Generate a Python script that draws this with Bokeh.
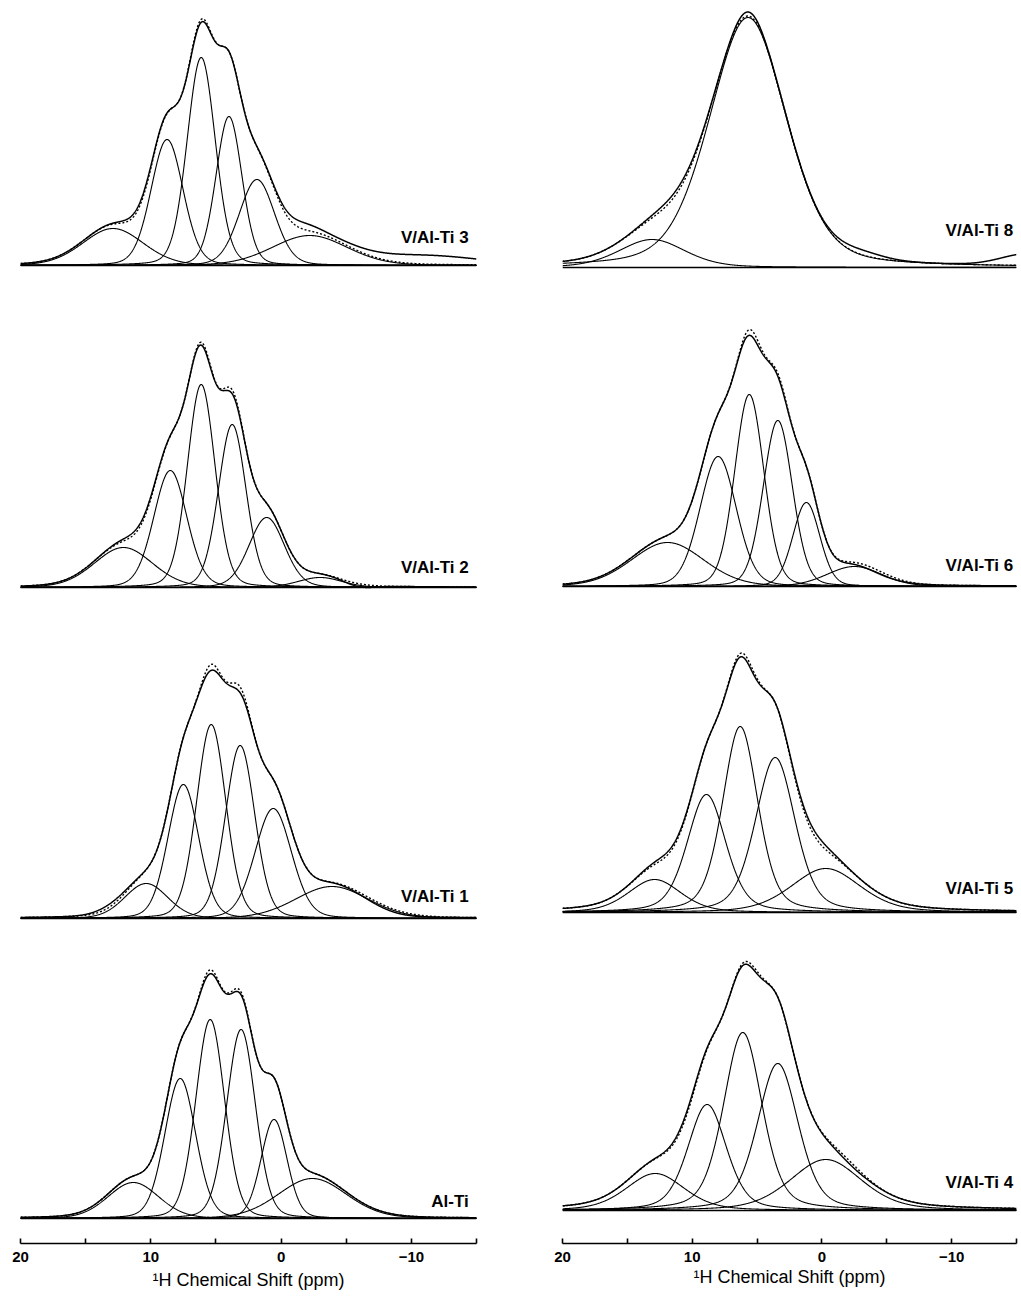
import numpy as np
from bokeh.plotting import figure
from bokeh.layouts import row
from bokeh.models import Range1d, FixedTicker
from bokeh.core.properties import value
from bokeh.embed import file_html
from bokeh.resources import INLINE

FONT = "Liberation Sans"

# ---------------- axis ----------------
major_ticks = [20, 10, 0, -10]
minor_ticks = [15, 5, -5, -15]
x_label = "\u00b9H Chemical Shift (ppm)"

# ---------------- samples ----------------
left_names = ["V/Al-Ti 3", "V/Al-Ti 2", "V/Al-Ti 1", "Al-Ti"]
right_names = ["V/Al-Ti 8", "V/Al-Ti 6", "V/Al-Ti 5", "V/Al-Ti 4"]

# fitted components: centre (ppm), height (a.u.), FWHM (ppm); Lorentzian fraction
vat3_centre = [12.9, 8.75, 6.13, 4.0, 1.85, -2.2]
vat3_height = [37, 126, 208, 149, 86, 30]
vat3_fwhm = [5.5, 2.9, 2.55, 2.35, 3.2, 6.8]
vat3_lorentz = 0.15
# experimental minus fit (deviation terms): centre, height, FWHM
vat3_dev_centre = [11.0, -1.5, -11.0, 6.2]
vat3_dev_height = [3, 6, 9, -3]
vat3_dev_fwhm = [3.0, 3.0, 10.0, 1.5]

vat2_centre = [12.1, 8.5, 6.13, 3.75, 1.1, -3.0]
vat2_height = [40, 117, 203, 163, 70, 10]
vat2_fwhm = [5.3, 3.0, 2.5, 2.5, 3.2, 4.0]
vat2_lorentz = 0.15
vat2_dev_centre = [6.0, 3.8, 11.0, -6.0]
vat2_dev_height = [-3, -4, 3, -3]
vat2_dev_fwhm = [1.2, 1.2, 3.0, 2.5]

vat1_centre = [10.35, 7.5, 5.36, 3.14, 0.6, -3.9]
vat1_height = [35, 134, 194, 173, 110, 32]
vat1_fwhm = [3.9, 2.8, 2.65, 2.65, 3.3, 6.6]
vat1_lorentz = 0.15
vat1_dev_centre = [5.4, 3.2, -8.0, 13.0]
vat1_dev_height = [-6, -6, -3, 3]
vat1_dev_fwhm = [1.3, 1.3, 5.0, 3.0]

alti_centre = [11.34, 7.74, 5.44, 3.07, 0.54, -2.4]
alti_height = [36, 140, 199, 189, 99, 40]
alti_fwhm = [4.6, 2.8, 2.6, 2.6, 2.35, 6.2]
alti_lorentz = 0.15
alti_dev_centre = [5.5, 3.3]
alti_dev_height = [-4, -3]
alti_dev_fwhm = [1.3, 1.3]

vat8_centre = [13.1, 5.7]
vat8_height = [28, 250]
vat8_fwhm = [6.0, 7.0]
vat8_lorentz = 0.3
vat8_dev_centre = [5.7, -3.0, 11.5, -16.0]
vat8_dev_height = [4, 5, 4, 12]
vat8_dev_fwhm = [2.0, 4.0, 4.0, 5.0]

vat6_centre = [11.9, 8.0, 5.6, 3.4, 1.2, -2.5]
vat6_height = [44, 130, 192, 166, 84, 20]
vat6_fwhm = [6.6, 3.3, 2.65, 2.65, 2.45, 5.0]
vat6_lorentz = 0.15
vat6_dev_centre = [5.4, 3.3, -4.0]
vat6_dev_height = [-6, -3, -3]
vat6_dev_fwhm = [1.5, 1.2, 4.0]

vat5_centre = [12.9, 8.9, 6.3, 3.6, -0.3]
vat5_height = [33, 118, 186, 155, 44]
vat5_fwhm = [4.8, 3.5, 3.2, 3.6, 6.3]
vat5_lorentz = 0.35
vat5_dev_centre = [5.9, 12.0, 0.5]
vat5_dev_height = [-4, 3, 5]
vat5_dev_fwhm = [2.0, 3.0, 3.0]

vat4_centre = [12.85, 8.85, 6.1, 3.4, -0.3]
vat4_height = [37, 106, 178, 147, 51]
vat4_fwhm = [5.3, 3.5, 3.5, 3.7, 6.5]
vat4_lorentz = 0.35
vat4_dev_centre = [5.5, 10.5, -2.0]
vat4_dev_height = [-3, 3, -3]
vat4_dev_fwhm = [2.0, 3.0, 3.0]

# ---------------- helpers ----------------
xs = np.linspace(20, -15, 1401)


def pseudo_voigt(x, c, h, w, f):
    u = 4.0 * ((x - c) / w) ** 2
    return h * ((1 - f) * np.exp(-np.log(2) * u) + f / (1 + u))


def gauss(x, c, h, w):
    return h * np.exp(-4 * np.log(2) * ((x - c) / w) ** 2)


def panel(centre, height, fwhm, lor, dcen, dh, dw):
    comps = [pseudo_voigt(xs, c, h, w, lor) for c, h, w in zip(centre, height, fwhm)]
    fit = np.sum(comps, axis=0)
    dev = np.zeros_like(xs)
    for c, h, w in zip(dcen, dh, dw):
        dev += gauss(xs, c, h, w)
    return comps, fit, fit + dev


left_panels = [
    panel(vat3_centre, vat3_height, vat3_fwhm, vat3_lorentz, vat3_dev_centre, vat3_dev_height, vat3_dev_fwhm),
    panel(vat2_centre, vat2_height, vat2_fwhm, vat2_lorentz, vat2_dev_centre, vat2_dev_height, vat2_dev_fwhm),
    panel(vat1_centre, vat1_height, vat1_fwhm, vat1_lorentz, vat1_dev_centre, vat1_dev_height, vat1_dev_fwhm),
    panel(alti_centre, alti_height, alti_fwhm, alti_lorentz, alti_dev_centre, alti_dev_height, alti_dev_fwhm),
]
right_panels = [
    panel(vat8_centre, vat8_height, vat8_fwhm, vat8_lorentz, vat8_dev_centre, vat8_dev_height, vat8_dev_fwhm),
    panel(vat6_centre, vat6_height, vat6_fwhm, vat6_lorentz, vat6_dev_centre, vat6_dev_height, vat6_dev_fwhm),
    panel(vat5_centre, vat5_height, vat5_fwhm, vat5_lorentz, vat5_dev_centre, vat5_dev_height, vat5_dev_fwhm),
    panel(vat4_centre, vat4_height, vat4_fwhm, vat4_lorentz, vat4_dev_centre, vat4_dev_height, vat4_dev_fwhm),
]

# layout (stack offsets in screen units, label placement)
left_offsets = [978, 656, 325, 25]
right_offsets = [976, 657, 331, 33]
left_label_dy = [28, 20, 22, 17]
right_label_dy = [37, 21, 24, 28]


def make_fig(width, lb, rb, names, panels, offsets, label_dy, label_x, label_standoff):
    p = figure(width=width, height=1298, x_range=Range1d(20, -15), y_range=Range1d(0, 1235),
               output_backend="svg", toolbar_location=None, y_axis_location=None,
               min_border_left=lb, min_border_right=rb, min_border_top=8, min_border_bottom=55)
    p.outline_line_color = None
    p.xgrid.visible = False
    p.ygrid.visible = False
    p.background_fill_color = "white"
    p.border_fill_color = "white"

    for name, (comps, fit, exp), off, dy in zip(names, panels, offsets, label_dy):
        p.line([20, -15], [off, off], line_color="black", line_width=1.6)
        for comp in comps:
            p.line(xs, comp + off, line_color="black", line_width=1.1)
        p.line(xs, fit + off, line_color="black", line_width=1.4, line_dash="2 2")
        p.line(xs, exp + off, line_color="black", line_width=1.5)
        p.text(x=[label_x], y=[off + dy], text=[name], text_align="right", text_baseline="middle",
               text_font=value(FONT), text_font_style="bold", text_font_size="17px", text_color="black")

    ax = p.xaxis[0]
    ax.ticker = FixedTicker(ticks=major_ticks, minor_ticks=minor_ticks)
    ax.axis_line_width = 1.6
    ax.axis_line_color = "black"
    ax.major_tick_in = 5
    ax.major_tick_out = 0
    ax.minor_tick_in = 5
    ax.minor_tick_out = 0
    ax.major_tick_line_width = 1.6
    ax.minor_tick_line_width = 1.6
    ax.major_label_standoff = 8
    ax.major_label_text_font = FONT
    ax.major_label_text_font_style = "bold"
    ax.major_label_text_font_size = "15px"
    ax.major_label_text_color = "black"
    ax.axis_label = x_label
    ax.axis_label_text_font = FONT
    ax.axis_label_text_font_style = "normal"
    ax.axis_label_text_font_size = "18px"
    ax.axis_label_text_color = "black"
    ax.axis_label_standoff = label_standoff
    return p


p_left = make_fig(506, 20, 30, left_names, left_panels, left_offsets, left_label_dy, -14.4, 5)
p_right = make_fig(513, 56, 3, right_names, right_panels, right_offsets, right_label_dy, -14.75, 2)

layout = row(p_left, p_right)
open("out.html", "w").write(file_html(layout, INLINE))
